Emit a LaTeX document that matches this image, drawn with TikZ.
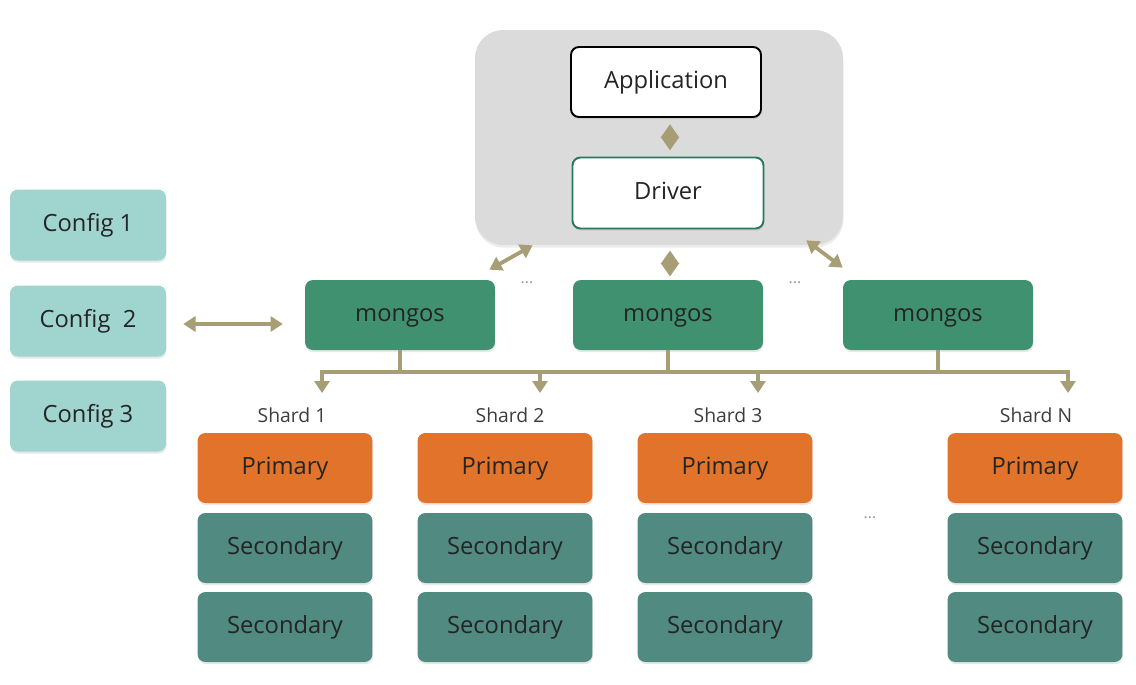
\documentclass[tikz,border=0pt]{standalone}
\usepackage{fontspec}
\setmainfont{Open Sans}
\usetikzlibrary{arrows.meta,calc,shadows}
\definecolor{clientgray}{RGB}{219,219,219}
\definecolor{khaki}{RGB}{168,158,118}
\definecolor{mongosgreen}{RGB}{63,145,112}
\definecolor{drivergreen}{RGB}{40,122,92}
\definecolor{configteal}{RGB}{160,212,206}
\definecolor{primaryorange}{RGB}{225,115,42}
\definecolor{secondaryteal}{RGB}{80,138,128}
\definecolor{txt}{RGB}{36,36,36}
\definecolor{labelgray}{RGB}{60,60,60}
\begin{document}
\begin{tikzpicture}[x=0.02cm,y=0.02cm]
\tikzstyle{every node}+=[inner sep=0pt, font=\fontsize{13.5}{16}\selectfont, text=txt]
\tikzstyle{box}=[rectangle, rounded corners=4.5pt, minimum height=1.4cm, text height=0.72em, text depth=0pt, drop shadow={shadow xshift=0.3pt, shadow yshift=-1.2pt, opacity=0.18}]
\tikzstyle{mongos}=[box, fill=mongosgreen, minimum width=3.8cm]
\tikzstyle{config}=[box, fill=configteal, minimum width=3.12cm, minimum height=1.42cm]
\tikzstyle{primary}=[box, fill=primaryorange, minimum width=3.5cm]
\tikzstyle{secondary}=[box, fill=secondaryteal, minimum width=3.5cm]
\tikzstyle{shardlabel}=[font=\fontsize{11}{13}\selectfont, text=labelgray]
\tikzstyle{more}=[font=\fontsize{9}{10}\selectfont, text=gray!80]
\tikzstyle{link}=[draw=khaki, line width=2.2pt]
\tikzstyle{both}=[link, {Triangle[length=7pt,width=8.5pt]}-{Triangle[length=7pt,width=8.5pt]}]
\tikzstyle{diam}=[link, {Triangle[length=7.6pt,width=10pt]}-{Triangle[length=7.6pt,width=10pt]}]
\tikzstyle{down}=[link, -{Triangle[length=6.8pt,width=8.5pt]}]
\useasboundingbox (0,0) rectangle (1136,-684);
\node [rectangle, rounded corners=16pt, fill=clientgray, minimum width=7.36cm, minimum height=4.3cm, drop shadow={shadow xshift=0.3pt, shadow yshift=-1.5pt, opacity=0.15}] (client) at (659,-137.5) {};
\node [box, fill=white, draw=black, line width=1.1pt, minimum width=3.8cm, minimum height=1.4cm] (app) at (666,-82) {Application};
\node [box, fill=white, draw=drivergreen, line width=1.1pt, minimum width=3.82cm, minimum height=1.42cm] (driver) at (668,-193) {Driver};
\node [config] (c1) at (88,-225) {Config 1};
\node [config] (c2) at (88,-321) {Config\ \ 2};
\node [config] (c3) at (88,-416) {Config 3};
\node [mongos] (m1) at (400,-315) {mongos};
\node [mongos] (m2) at (668,-315) {mongos};
\node [mongos] (m3) at (938,-315) {mongos};
\node [more] (dots1) at (527,-283) {...};
\node [more] (dots2) at (795,-283) {...};
\node [shardlabel] (sh1) at (292,-415) {Shard 1};
\node [shardlabel] (sh2) at (510,-415) {Shard 2};
\node [shardlabel] (sh3) at (728,-415) {Shard 3};
\node [shardlabel] (shN) at (1036,-415) {Shard N};
\node [primary] (p1) at (285,-468) {Primary};
\node [primary] (p2) at (505,-468) {Primary};
\node [primary] (p3) at (725,-468) {Primary};
\node [primary] (pN) at (1035,-468) {Primary};
\node [secondary] (s1a) at (285,-548) {Secondary};
\node [secondary] (s2a) at (505,-548) {Secondary};
\node [secondary] (s3a) at (725,-548) {Secondary};
\node [secondary] (sNa) at (1035,-548) {Secondary};
\node [secondary] (s1b) at (285,-627) {Secondary};
\node [secondary] (s2b) at (505,-627) {Secondary};
\node [secondary] (s3b) at (725,-627) {Secondary};
\node [secondary] (sNb) at (1035,-627) {Secondary};
\node [more] (dots3) at (870,-518) {...};
\coordinate (bus) at (0,-372);
\coordinate (d1) at (322,-393);
\coordinate (d2) at (540,-393);
\coordinate (d3) at (758,-393);
\coordinate (dN) at (1068,-393);
\draw [diam, shorten <=3.5pt, shorten >=3.5pt] ($(app.south)+(4,0)$) -- ($(driver.north)+(2,0)$);
\draw [diam, shorten <=2.9pt, shorten >=1.8pt] ($(client.south -| driver.south)+(2,0)$) -- ($(m2.north)+(2,0)$);
\draw [both] ($(client.south west)+(58,0)$) -- ($(m1.north east)+(-6,10)$);
\draw [both] ($(client.south east)+(-37,5)$) -- ($(m3.north west)+(0,12)$);
\draw [both, shorten <=9.6pt, shorten >=12.4pt] ($(c2.east)+(0,-3)$) -- ($(c2.east -| m1.west)+(0,-3)$);
\draw [link] (m1.south) -- (m1.south |- bus);
\draw [link] (m2.south) -- (m2.south |- bus);
\draw [link] (m3.south) -- (m3.south |- bus);
\draw [link, {Triangle[length=6.8pt,width=8.5pt]}-{Triangle[length=6.8pt,width=8.5pt]}] (d1) -- (bus -| d1) -- (bus -| dN) -- (dN);
\draw [down] (bus -| d2) -- (d2);
\draw [down] (bus -| d3) -- (d3);
\end{tikzpicture}
\end{document}
